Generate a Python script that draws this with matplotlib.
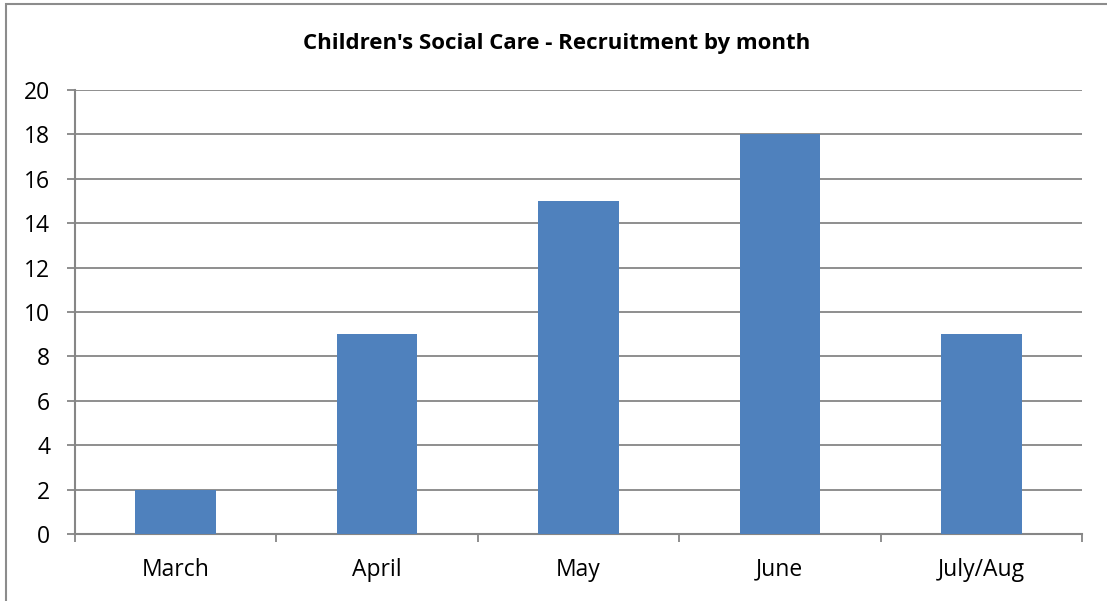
import matplotlib
matplotlib.use("Agg")
import matplotlib.pyplot as plt
from matplotlib.patches import Rectangle
import numpy as np

categories = ["March", "April", "May", "June", "July/Aug"]
values = [2, 9, 15, 18, 9]
yticks = [0, 2, 4, 6, 8, 10, 12, 14, 16, 18, 20]
title = "Children's Social Care - Recruitment by month"

plt.rcParams['font.family'] = ['Open Sans', 'DejaVu Sans']

W, H = 1107, 601
fig = plt.figure(figsize=(W / 100, H / 100), dpi=100)

# outer chart frame (left and top edges visible)
fig.patches.append(Rectangle((6 / W, -0.1), 1.2, (H - 4) / H + 0.1,
                             transform=fig.transFigure, fill=False,
                             edgecolor="#8c8c8c", linewidth=1.5))

left, right, top, bottom = 75, 1082, 90, 534
ax = fig.add_axes([left / W, 1 - bottom / H, (right - left) / W, (bottom - top) / H])

x = np.arange(len(categories))
ax.bar(x, values, width=0.4, color="#4F81BD", zorder=3)

ax.set_xlim(-0.5, len(categories) - 0.5)
ax.set_ylim(0, 20)
ax.set_yticks(yticks)
ax.set_yticklabels([str(v) for v in yticks])
ax.set_xticks(x)
ax.set_xticklabels(categories)
ax.set_xticks(np.arange(-0.5, len(categories)), minor=True)

gridc = "#868686"
ax.yaxis.grid(True, color=gridc, linewidth=1.3, zorder=0)
ax.set_axisbelow(True)
for s in ["top", "right"]:
    ax.spines[s].set_visible(False)
for s in ["left", "bottom"]:
    ax.spines[s].set_color(gridc)
    ax.spines[s].set_linewidth(1.5)

ax.tick_params(axis="y", length=6, width=1.3, color=gridc, pad=12, labelsize=16.5)
ax.tick_params(axis="x", which="major", length=0, pad=17, labelsize=16.5)
ax.tick_params(axis="x", which="minor", length=6, width=1.3, color=gridc)

fig.text(557 / W, 1 - 44 / H, title, ha="center", va="center",
         fontsize=16, fontweight="bold")

fig.savefig("out.png", dpi=100)
